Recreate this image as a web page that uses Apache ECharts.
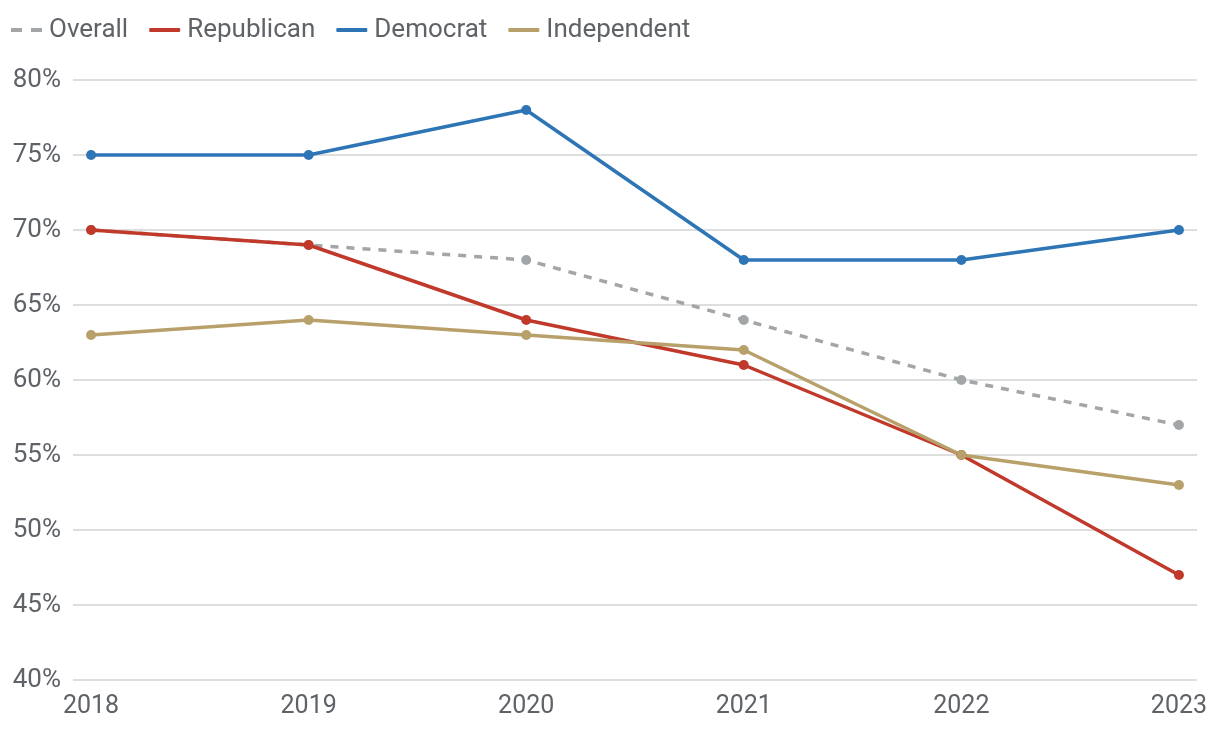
<!DOCTYPE html>
<html><head><meta charset="utf-8">
<script src="https://cdn.jsdelivr.net/npm/echarts@6/dist/echarts.min.js"></script>
<style>html,body{margin:0;padding:0;background:#fff}#c{width:1220px;height:730px}</style>
</head><body><div id="c"></div>
<script>
const years = [2018, 2019, 2020, 2021, 2022, 2023];
const overall = [70, 69, 68, 64, 60, 57];
const republican = [70, 69, 64, 61, 55, 47];
const democrat = [75, 75, 78, 68, 68, 70];
const independent = [63, 64, 63, 62, 55, 53];

const FONT = 'Roboto';
const TXT = '#5f6368';
const pair = arr => years.map((y, i) => [y, arr[i]]);
const mk = (name, data, color, dashed) => ({
  name, type: 'line', data: pair(data), symbol: 'circle', symbolSize: 10,
  lineStyle: { color, width: 3.5, type: dashed ? [8, 8] : 'solid' },
  itemStyle: { color }, z: dashed ? 1 : 2
});
const chart = echarts.init(document.getElementById('c'), null, { renderer: 'canvas' });
chart.setOption({
  animation: false,
  textStyle: { fontFamily: FONT },
  legend: {
    top: 12, left: 6, itemWidth: 31, itemHeight: 4, itemGap: 21,
    textStyle: { fontFamily: FONT, fontSize: 26, color: TXT, padding: [0, 0, 0, 2] },
    data: [
      { name: 'Overall', icon: 'path://M0,0 L11,0 L11,4 L0,4 Z M20,0 L31,0 L31,4 L20,4 Z' },
      { name: 'Republican', icon: 'roundRect' },
      { name: 'Democrat', icon: 'roundRect' },
      { name: 'Independent', icon: 'roundRect' }
    ]
  },
  grid: { left: 73, right: 23, top: 80, bottom: 50, containLabel: false },
  xAxis: {
    type: 'value', min: 2017.917, max: 2023.083,
    axisLine: { show: false }, axisTick: { show: false }, splitLine: { show: false },
    axisLabel: { customValues: years, formatter: v => String(v), fontFamily: FONT, fontSize: 25, color: TXT, margin: 14 }
  },
  yAxis: {
    type: 'value', min: 40, max: 80, interval: 5,
    axisLine: { show: false }, axisTick: { show: false },
    splitLine: { lineStyle: { color: '#d3d3d3', width: 1.5 } },
    axisLabel: { formatter: v => v + '%', fontFamily: FONT, fontSize: 26, color: TXT, margin: 12 }
  },
  series: [
    mk('Overall', overall, '#a2a6a9', true),
    mk('Republican', republican, '#c0392b', false),
    mk('Democrat', democrat, '#2e75b6', false),
    mk('Independent', independent, '#b8a06a', false)
  ]
});
</script></body></html>
